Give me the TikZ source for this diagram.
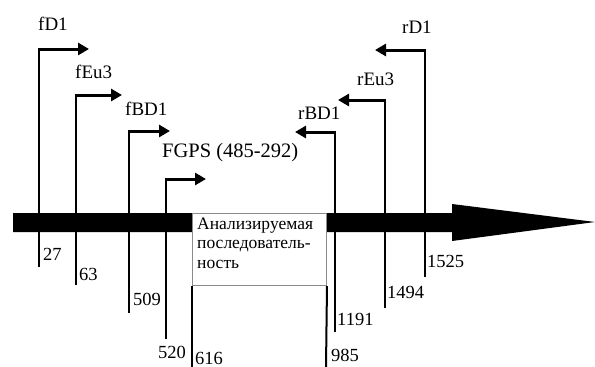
\documentclass[tikz,border=0pt]{standalone}
\usepackage{fontspec}
\setmainfont{Liberation Serif}
\usetikzlibrary{arrows.meta, positioning}

\begin{document}
\begin{tikzpicture}[x=1pt, y=-1pt, >={Triangle[length=11pt, width=12pt]},
  primer/.style={line width=2pt},
  dir/.style={->, line width=3pt},
  lbl/.style={font=\fontsize{19}{20}\selectfont, inner sep=0pt, anchor=base west},
  num/.style={font=\fontsize{18.5}{20}\selectfont, inner sep=0pt, anchor=base west},
  seqbox/.style={draw=black!45, fill=white, line width=1pt, inner sep=0pt,
    minimum width=134pt, minimum height=72pt, anchor=north west}]
  \useasboundingbox (0,0) rectangle (595,367);
  % основная стрелка (ген)
  \fill (13,213) -- (452,213) -- (452,204) -- (595,222) -- (452,241) -- (452,232) -- (13,232) -- cycle;
  % анализируемый участок
  \node[seqbox] (seq) at (192,213) {};
  \node[font=\fontsize{17.5}{19.5}\selectfont, align=left, inner sep=0pt,
    below right=4.5pt and 5pt of seq.north west] (seqtext) {Анализируемая\\последователь-\\ность};
  \coordinate (b616) at (192,367);
  \coordinate (b985) at (326,367);
  \draw[primer] (seq.south west) -- (b616);
  \draw[primer] (seq.south east) -- (b985);
  % прямые праймеры
  \coordinate (fD1-bot) at (39,267);  \coordinate (fD1-top) at (39,49);   \coordinate (fD1-end) at (89,49);
  \coordinate (fEu3-bot) at (76,285); \coordinate (fEu3-top) at (76,95);  \coordinate (fEu3-end) at (122,95);
  \coordinate (fBD1-bot) at (129,313); \coordinate (fBD1-top) at (129,131); \coordinate (fBD1-end) at (170,131);
  \coordinate (FGPS-bot) at (166,339); \coordinate (FGPS-top) at (166,179); \coordinate (FGPS-end) at (206,179);
  \draw[primer] (fD1-bot) -- (fD1-top);
  \draw[dir] ([xshift=-1pt]fD1-top) -- (fD1-end);
  \draw[primer] (fEu3-bot) -- (fEu3-top);
  \draw[dir] ([xshift=-1pt]fEu3-top) -- (fEu3-end);
  \draw[primer] (fBD1-bot) -- (fBD1-top);
  \draw[dir] ([xshift=-1pt]fBD1-top) -- (fBD1-end);
  \draw[primer] (FGPS-bot) -- (FGPS-top);
  \draw[dir] ([xshift=-1pt]FGPS-top) -- (FGPS-end);
  % обратные праймеры
  \coordinate (rBD1-bot) at (335,332); \coordinate (rBD1-top) at (335,132); \coordinate (rBD1-end) at (295,132);
  \coordinate (rEu3-bot) at (385,308); \coordinate (rEu3-top) at (385,100); \coordinate (rEu3-end) at (338,100);
  \coordinate (rD1-bot) at (425,277);  \coordinate (rD1-top) at (425,50);   \coordinate (rD1-end) at (375,50);
  \draw[primer] (rBD1-bot) -- (rBD1-top);
  \draw[dir] ([xshift=1pt]rBD1-top) -- (rBD1-end);
  \draw[primer] (rEu3-bot) -- (rEu3-top);
  \draw[dir] ([xshift=1pt]rEu3-top) -- (rEu3-end);
  \draw[primer] (rD1-bot) -- (rD1-top);
  \draw[dir] ([xshift=1pt]rD1-top) -- (rD1-end);
  % названия праймеров
  \node[lbl] (fD1) at (38,30) {fD1};
  \node[lbl] (fEu3) at (75,78) {fEu3};
  \node[lbl] (fBD1) at (125,115) {fBD1};
  \node[lbl, font=\fontsize{20.5}{21}\selectfont] (FGPS) at (162,157) {FGPS (485-292)};
  \node[lbl] (rBD1) at (298,119) {rBD1};
  \node[lbl] (rEu3) at (357,85) {rEu3};
  \node[lbl] (rD1) at (402,33) {rD1};
  % позиции
  \node[num] (p27) at (43,260) {27};
  \node[num] (p63) at (79,280) {63};
  \node[num] (p509) at (133,305) {509};
  \node[num] (p520) at (158,358) {520};
  \node[num] (p616) at (195,364.5) {616};
  \node[num] (p985) at (331,361) {985};
  \node[num] (p1191) at (337,325) {1191};
  \node[num] (p1494) at (387,298) {1494};
  \node[num] (p1525) at (427,267) {1525};
\end{tikzpicture}
\end{document}
